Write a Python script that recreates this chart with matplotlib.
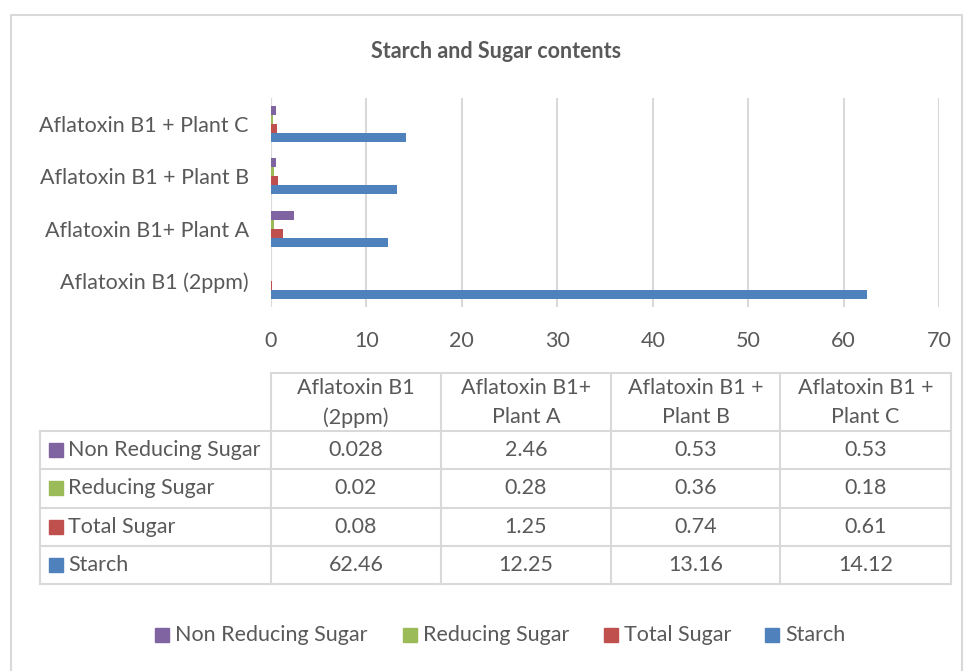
import matplotlib
matplotlib.use("Agg")
import matplotlib.pyplot as plt
from matplotlib.lines import Line2D
from matplotlib.patches import Rectangle

plt.rcParams['font.family'] = ['Lato', 'DejaVu Sans']

# data
groups = ["Aflatoxin B1 (2ppm)", "Aflatoxin B1+ Plant A",
          "Aflatoxin B1 + Plant B", "Aflatoxin B1 + Plant C"]
col_heads = ["Aflatoxin B1\n(2ppm)", "Aflatoxin B1+\nPlant A",
             "Aflatoxin B1 +\nPlant B", "Aflatoxin B1 +\nPlant C"]
series = ["Starch", "Total Sugar", "Reducing Sugar", "Non Reducing Sugar"]
starch = [62.46, 12.25, 13.16, 14.12]
total_sugar = [0.08, 1.25, 0.74, 0.61]
reducing = [0.02, 0.28, 0.36, 0.18]
non_reducing = [0.028, 2.46, 0.53, 0.53]
values = [starch, total_sugar, reducing, non_reducing]
colors = ["#4F81BD", "#C0504D", "#9BBB59", "#8064A2"]

W, H = 966, 671
TXT = "#595959"
GRID = "#D9D9D9"
FS = 15.5

fig = plt.figure(figsize=(W / 100, H / 100), dpi=100)

def fx(px): return px / W
def fy(py): return 1 - py / H

# outer chart border
fig.add_artist(Line2D([fx(11), fx(11), fx(962), fx(962)],
                      [fy(672), fy(15), fy(15), fy(672)],
                      color=GRID, lw=1.5, transform=fig.transFigure))

fig.text(fx(496), fy(51), "Starch and Sugar contents", ha='center', va='center',
         fontsize=15.5, fontweight='bold', color=TXT)

# bar chart
ax = fig.add_axes([fx(271), fy(307.3), fx(939) - fx(271), fy(97.5) - fy(307.3)])
h = 0.172
for i, (name, vals, c) in enumerate(zip(series, values, colors)):
    ypos = [k + (i - 1.5) * h for k in range(len(groups))]
    ax.barh(ypos, vals, height=h, color=c, label=name, zorder=3)
ax.set_xlim(0, 70)
ax.set_ylim(-0.5, len(groups) - 0.5)
ax.set_xticks(range(0, 71, 10))
ax.set_yticks(range(len(groups)))
ax.set_yticklabels(groups)
ax.grid(axis='x', color=GRID, lw=1.5, zorder=0)
for s in ax.spines.values():
    s.set_visible(False)
ax.axvline(0, color=GRID, lw=1.5, zorder=2)
ax.tick_params(length=0, labelsize=FS, labelcolor=TXT)
ax.tick_params(axis='x', pad=17)
ax.tick_params(axis='y', pad=16)

# data table
col_x = [271, 441, 611, 780, 951]
row_y = [372.7, 431, 469, 507.7, 545.7, 584]
tl = dict(color=GRID, lw=1.5, transform=fig.transFigure)
fig.add_artist(Line2D([fx(271), fx(951)], [fy(row_y[0])] * 2, **tl))
for y in row_y[1:]:
    fig.add_artist(Line2D([fx(40), fx(951)], [fy(y)] * 2, **tl))
for x in col_x:
    fig.add_artist(Line2D([fx(x)] * 2, [fy(row_y[0]), fy(row_y[-1])], **tl))
fig.add_artist(Line2D([fx(40)] * 2, [fy(row_y[1]), fy(row_y[-1])], **tl))

for j, head in enumerate(col_heads):
    cx = (col_x[j] + col_x[j + 1]) / 2
    fig.text(fx(cx), fy((row_y[0] + row_y[1]) / 2 + 1), head, ha='center', va='center',
             fontsize=FS, color=TXT, linespacing=1.55)

# rows listed top to bottom: reversed series order
for r, i in enumerate(reversed(range(len(series)))):
    cy = (row_y[r + 1] + row_y[r + 2]) / 2
    fig.add_artist(Rectangle((fx(49), fy(cy + 7)), fx(14), fy(0) - fy(14),
                             color=colors[i], transform=fig.transFigure))
    fig.text(fx(68), fy(cy), series[i], ha='left', va='center', fontsize=FS, color=TXT)
    for j, v in enumerate(values[i]):
        cx = (col_x[j] + col_x[j + 1]) / 2
        fig.text(fx(cx), fy(cy), f"{v:g}", ha='center', va='center', fontsize=FS, color=TXT)

# legend at bottom
leg_x = [155, 403, 604, 765]
for x, i in zip(leg_x, reversed(range(len(series)))):
    fig.add_artist(Rectangle((fx(x), fy(642)), fx(14), fy(0) - fy(14),
                             color=colors[i], transform=fig.transFigure))
    fig.text(fx(x + 20), fy(635), series[i], ha='left', va='center', fontsize=FS, color=TXT)

fig.savefig("out.png", dpi=100, facecolor='white')
